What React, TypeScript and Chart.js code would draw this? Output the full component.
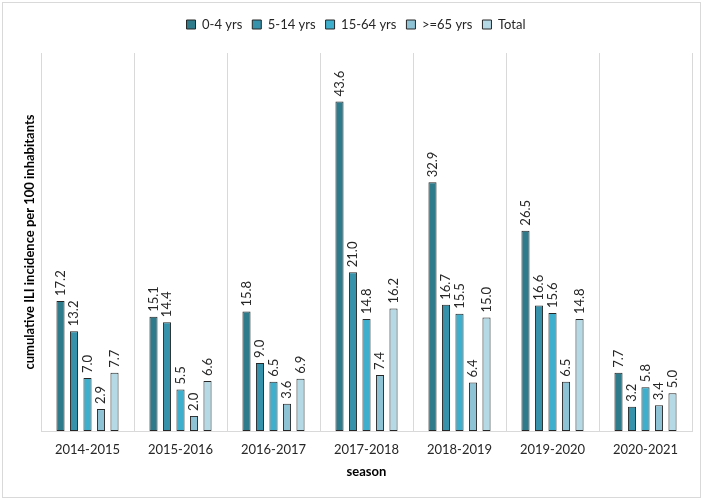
import React, { useEffect, useRef } from "react";
import { Chart, registerables } from "chart.js";

Chart.register(...registerables);

const seasons = ["2014-2015", "2015-2016", "2016-2017", "2017-2018", "2018-2019", "2019-2020", "2020-2021"];
const age0to4 = [17.2, 15.1, 15.8, 43.6, 32.9, 26.5, 7.7];
const age5to14 = [13.2, 14.4, 9.0, 21.0, 16.7, 16.6, 3.2];
const age15to64 = [7.0, 5.5, 6.5, 14.8, 15.5, 15.6, 5.8];
const age65plus = [2.9, 2.0, 3.6, 7.4, 6.4, 6.5, 3.4];
const total = [7.7, 6.6, 6.9, 16.2, 15.0, 14.8, 5.0];

const seriesNames = ["0-4 yrs", "5-14 yrs", "15-64 yrs", ">=65 yrs", "Total"];
const seriesColors = ["#2e7b8b", "#3592aa", "#3eb0ce", "#8ec3d6", "#b6d9e6"];
const FONT = "Lato, 'Noto Sans', sans-serif";

const valueLabels = {
  id: "valueLabels",
  afterInit(chart: any) {
    const legend = chart.legend;
    if (legend) {
      const origFit = legend.fit;
      legend.fit = function () {
        origFit.call(this);
        this.height += 12;
      };
      const origDraw = legend.draw;
      legend.draw = function () {
        const ctx = chart.ctx;
        ctx.save();
        ctx.translate(10, 0);
        origDraw.call(this);
        ctx.restore();
      };
    }
  },
  afterDatasetsDraw(chart: any) {
    const ctx = chart.ctx;
    ctx.save();
    ctx.font = `13px ${FONT}`;
    ctx.fillStyle = "#262626";
    ctx.textAlign = "left";
    ctx.textBaseline = "middle";
    chart.data.datasets.forEach((ds: any, di: number) => {
      const meta = chart.getDatasetMeta(di);
      meta.data.forEach((el: any, i: number) => {
        const v = ds.data[i];
        ctx.save();
        ctx.translate(el.x, el.y - 5);
        ctx.rotate(-Math.PI / 2);
        ctx.fillText(Number(v).toFixed(1), 0, 0);
        ctx.restore();
      });
    });
    ctx.restore();
  },
};

export default function App() {
  const ref = useRef<HTMLCanvasElement | null>(null);
  useEffect(() => {
    document.body.style.margin = "0";
    const all = [age0to4, age5to14, age15to64, age65plus, total];
    const chart = new Chart(ref.current as HTMLCanvasElement, {
      type: "bar",
      data: {
        labels: seasons,
        datasets: all.map((d, i) => ({
          label: seriesNames[i],
          data: d,
          backgroundColor: seriesColors[i],
          borderColor: "#262626",
          borderWidth: 1,
          borderSkipped: false,
          categoryPercentage: 0.726,
          barPercentage: 0.6,
        })),
      },
      options: {
        animation: false,
        responsive: false,
        maintainAspectRatio: false,
        layout: { padding: { top: 8, right: 17, bottom: 0, left: 0 } },
        plugins: {
          legend: {
            position: "top",
            labels: {
              boxWidth: 9,
              boxHeight: 9,
              padding: 10,
              color: "#262626",
              font: { family: FONT, size: 13 },
            },
          },
          tooltip: { enabled: false },
        },
        scales: {
          x: {
            grid: { display: true, offset: true, color: "#d9d9d9", drawTicks: false },
            border: { display: true, color: "#d9d9d9" },
            ticks: { color: "#262626", font: { family: FONT, size: 13 }, padding: 11 },
            title: {
              display: true,
              text: "season",
              color: "#000",
              font: { family: FONT, size: 13, weight: "bold" },
              padding: { top: 0, bottom: 22 },
            },
            afterFit: (scale: any) => {
              scale.height = 71;
            },
          },
          y: {
            min: 0,
            max: 50,
            grid: { display: false },
            border: { display: false },
            ticks: { display: false },
            title: {
              display: true,
              text: "cumulative ILI incidence per 100 inhabitants",
              color: "#000",
              font: { family: FONT, size: 13, weight: "bold" },
              padding: { top: 22, bottom: 0 },
            },
            afterFit: (scale: any) => {
              scale.width = 41;
            },
          },
        },
      },
      plugins: [valueLabels],
    });
    return () => chart.destroy();
  }, []);
  return (
    <div style={{ position: "relative", width: 709, height: 502, background: "#fff" }}>
      <div
        style={{
          position: "absolute",
          left: 2,
          top: 2,
          width: 697,
          height: 494,
          border: "1px solid #d9d9d9",
          boxSizing: "content-box",
        }}
      />
      <canvas ref={ref} width={709} height={502} style={{ position: "absolute", left: 0, top: 0 }} />
    </div>
  );
}
